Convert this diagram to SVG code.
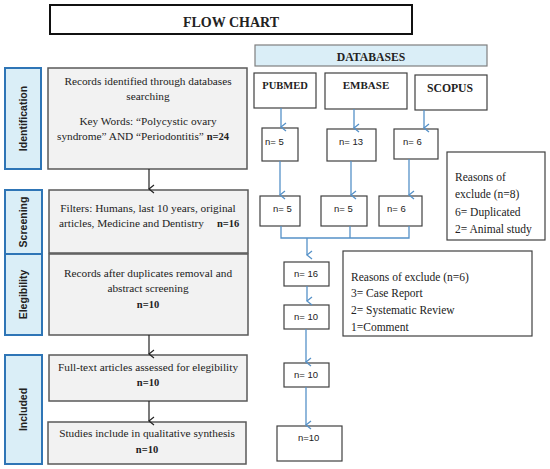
<svg xmlns="http://www.w3.org/2000/svg" width="550" height="469" viewBox="0 0 550 469">
<defs>
<style>
.serif{font-family:"Liberation Serif","Times New Roman",serif;fill:#222}
.sans{font-family:"Liberation Sans",Arial,sans-serif;fill:#222}
.main{fill:#f2f2f2;stroke:#595959;stroke-width:1.5}
.stage{fill:#daeef7;stroke:#2e75b6;stroke-width:2}
.wbox{fill:#fff;stroke:#404040;stroke-width:1.2}
.blue{stroke:#5591c8;stroke-width:1.3;fill:none}
.blk{stroke:#222;stroke-width:1.2;fill:none}
.stl{font-family:"Liberation Sans",Arial,sans-serif;font-weight:bold;font-size:10.5px;fill:#222}
</style>
<marker id="ab" viewBox="0 0 10 10" refX="5" refY="9" markerWidth="10" markerHeight="10" markerUnits="userSpaceOnUse" orient="auto-start-reverse">
<polyline points="1,4 5,9 9,4" fill="none" stroke="#5591c8" stroke-width="1.3"/>
</marker>
<marker id="ak" viewBox="0 0 10 10" refX="5" refY="9" markerWidth="10" markerHeight="10" markerUnits="userSpaceOnUse" orient="auto-start-reverse">
<polyline points="1,4 5,9 9,4" fill="none" stroke="#222" stroke-width="1.2"/>
</marker>
</defs>
<rect width="550" height="469" fill="#fff"/>

<g id="title">
<rect x="50" y="5" width="362" height="29" fill="#fff" stroke="#111" stroke-width="2"/>
<text class="serif" x="231" y="27" font-size="14" font-weight="bold" text-anchor="middle">FLOW CHART</text>
</g>

<g id="databases">
<rect x="255" y="45" width="232" height="21" fill="#daeef7" stroke="#7f7f7f" stroke-width="1.2"/>
<text class="serif" x="371" y="61" font-size="11.7" font-weight="bold" text-anchor="middle">DATABASES</text>
</g>
<g id="pubmed">
<rect class="wbox" x="254" y="73" width="62" height="35"/>
<text class="serif" x="285" y="89" font-size="10.5" font-weight="bold" text-anchor="middle">PUBMED</text>
</g>
<g id="embase">
<rect class="wbox" x="325" y="73" width="82" height="36"/>
<text class="serif" x="366" y="89" font-size="11" font-weight="bold" text-anchor="middle">EMBASE</text>
</g>
<g id="scopus">
<rect class="wbox" x="415" y="75" width="72" height="35"/>
<text class="serif" x="450" y="92" font-size="11.7" font-weight="bold" text-anchor="middle">SCOPUS</text>
</g>

<g id="n5a"><rect class="wbox" x="262" y="128" width="36" height="33"/><text class="sans" x="265" y="145" font-size="9.5">n= 5</text></g>
<g id="n13"><rect class="wbox" x="327" y="129" width="49" height="32"/><text class="sans" x="339" y="145" font-size="9.5">n= 13</text></g>
<g id="n6a"><rect class="wbox" x="394" y="129" width="44" height="30"/><text class="sans" x="403" y="145" font-size="9.5">n= 6</text></g>

<g id="n5b"><rect class="wbox" x="260" y="196" width="40" height="30"/><text class="sans" x="273" y="212" font-size="9.5">n= 5</text></g>
<g id="n5c"><rect class="wbox" x="321" y="196" width="46" height="30"/><text class="sans" x="334" y="212" font-size="9.5">n= 5</text></g>
<g id="n6b"><rect class="wbox" x="379" y="196" width="43" height="30"/><text class="sans" x="387" y="212" font-size="9.5">n= 6</text></g>

<g id="reasons8">
<rect class="wbox" x="447" y="152" width="98" height="88"/>
<text class="serif" font-size="11.5"><tspan x="455" y="181">Reasons of</tspan><tspan x="455" y="198">exclude (n=8)</tspan><tspan x="455" y="216">6= Duplicated</tspan><tspan x="455" y="233">2= Animal study</tspan></text>
</g>

<g id="n16"><rect class="wbox" x="284" y="262" width="45" height="24"/><text class="sans" x="294" y="277" font-size="9.5">n= 16</text></g>
<g id="n10a"><rect class="wbox" x="284" y="305" width="45" height="24"/><text class="sans" x="294" y="320" font-size="9.5">n= 10</text></g>
<g id="n10b"><rect class="wbox" x="284" y="363" width="45" height="24"/><text class="sans" x="294" y="378" font-size="9.5">n= 10</text></g>
<g id="n10c"><rect class="wbox" x="277" y="426" width="65" height="35"/><text class="sans" x="298" y="441" font-size="9.5">n=10</text></g>

<g id="reasons6">
<rect class="wbox" x="343" y="251" width="189" height="85"/>
<text class="serif" font-size="11.5"><tspan x="351" y="281">Reasons of exclude (n=6)</tspan><tspan x="351" y="297">3= Case Report</tspan><tspan x="351" y="314">2= Systematic Review</tspan><tspan x="351" y="331">1=Comment</tspan></text>
</g>

<g id="stage-identification"><rect class="stage" x="5" y="68" width="36" height="101"/><text class="stl" transform="translate(26.5,118.5) rotate(-90)" text-anchor="middle">Identification</text></g>
<g id="stage-screening"><rect class="stage" x="5" y="190" width="37" height="64"/><text class="stl" transform="translate(27,222) rotate(-90)" text-anchor="middle">Screening</text></g>
<g id="stage-elegibility"><rect class="stage" x="5" y="254" width="37" height="81"/><text class="stl" transform="translate(27,294.5) rotate(-90)" text-anchor="middle">Elegibility</text></g>
<g id="stage-included"><rect class="stage" x="5" y="355" width="37" height="109"/><text class="stl" transform="translate(27,409.5) rotate(-90)" text-anchor="middle">Included</text></g>

<g id="box-identified">
<rect class="main" x="48" y="68" width="199" height="101"/>
<text class="serif" font-size="11.3" text-anchor="middle"><tspan x="148" y="85">Records identified through databases</tspan><tspan x="148" y="100">searching</tspan><tspan x="148" y="125">Key Words: “Polycystic ovary</tspan><tspan x="143" y="140">syndrome” AND “Periodontitis” <tspan font-weight="bold" font-size="10.5">n=24</tspan></tspan></text>
</g>
<g id="box-filters">
<rect class="main" x="49" y="190" width="199" height="63"/>
<text class="serif" font-size="11.3" x="148" y="212" text-anchor="middle">Filters: Humans, last 10 years, original</text>
<text class="serif" font-size="11.3" x="59" y="227">articles, Medicine and Dentistry</text>
<text class="serif" font-size="10.5" x="217" y="227" font-weight="bold">n=16</text>
</g>
<g id="box-duplicates">
<rect class="main" x="49" y="254" width="199" height="81"/>
<text class="serif" font-size="11.3" text-anchor="middle"><tspan x="148" y="277">Records after duplicates removal and</tspan><tspan x="148" y="292">abstract screening</tspan><tspan x="148" y="308" font-weight="bold" font-size="10.5">n=10</tspan></text>
</g>
<g id="box-fulltext">
<rect class="main" x="49" y="355" width="198" height="46"/>
<text class="serif" font-size="11.3" text-anchor="middle"><tspan x="148" y="371">Full-text articles assessed for elegibility</tspan><tspan x="148" y="386" font-weight="bold" font-size="10.5">n=10</tspan></text>
</g>
<g id="box-studies">
<rect class="main" x="48" y="422" width="198" height="42"/>
<text class="serif" font-size="11.3" text-anchor="middle"><tspan x="147" y="437">Studies include in qualitative synthesis</tspan><tspan x="147" y="453" font-weight="bold" font-size="10.5">n=10</tspan></text>
</g>

<g id="connectors">
<line class="blk" x1="149" y1="169" x2="149" y2="189" marker-end="url(#ak)"/>
<line class="blk" x1="149" y1="335" x2="149" y2="354" marker-end="url(#ak)"/>
<line class="blk" x1="149" y1="401" x2="149" y2="421" marker-end="url(#ak)"/>
<line class="blue" x1="281" y1="108" x2="281" y2="127" marker-end="url(#ab)"/>
<line class="blue" x1="354" y1="109" x2="354" y2="128" marker-end="url(#ab)"/>
<line class="blue" x1="424" y1="110" x2="424" y2="128" marker-end="url(#ab)"/>
<line class="blue" x1="280" y1="161" x2="280" y2="195" marker-end="url(#ab)"/>
<line class="blue" x1="351" y1="161" x2="351" y2="195" marker-end="url(#ab)"/>
<line class="blue" x1="409" y1="159" x2="409" y2="195" marker-end="url(#ab)"/>
<polyline class="blue" points="281,226 281,238 409,238 409,226"/>
<line class="blue" x1="350" y1="226" x2="350" y2="238"/>
<line class="blue" x1="307" y1="238" x2="307" y2="255" marker-end="url(#ab)"/>
<line class="blue" x1="307" y1="286" x2="307" y2="301" marker-end="url(#ab)"/>
<line class="blue" x1="306" y1="329" x2="306" y2="362" marker-end="url(#ab)"/>
<line class="blue" x1="306" y1="387" x2="306" y2="425" marker-end="url(#ab)"/>
</g>
</svg>
